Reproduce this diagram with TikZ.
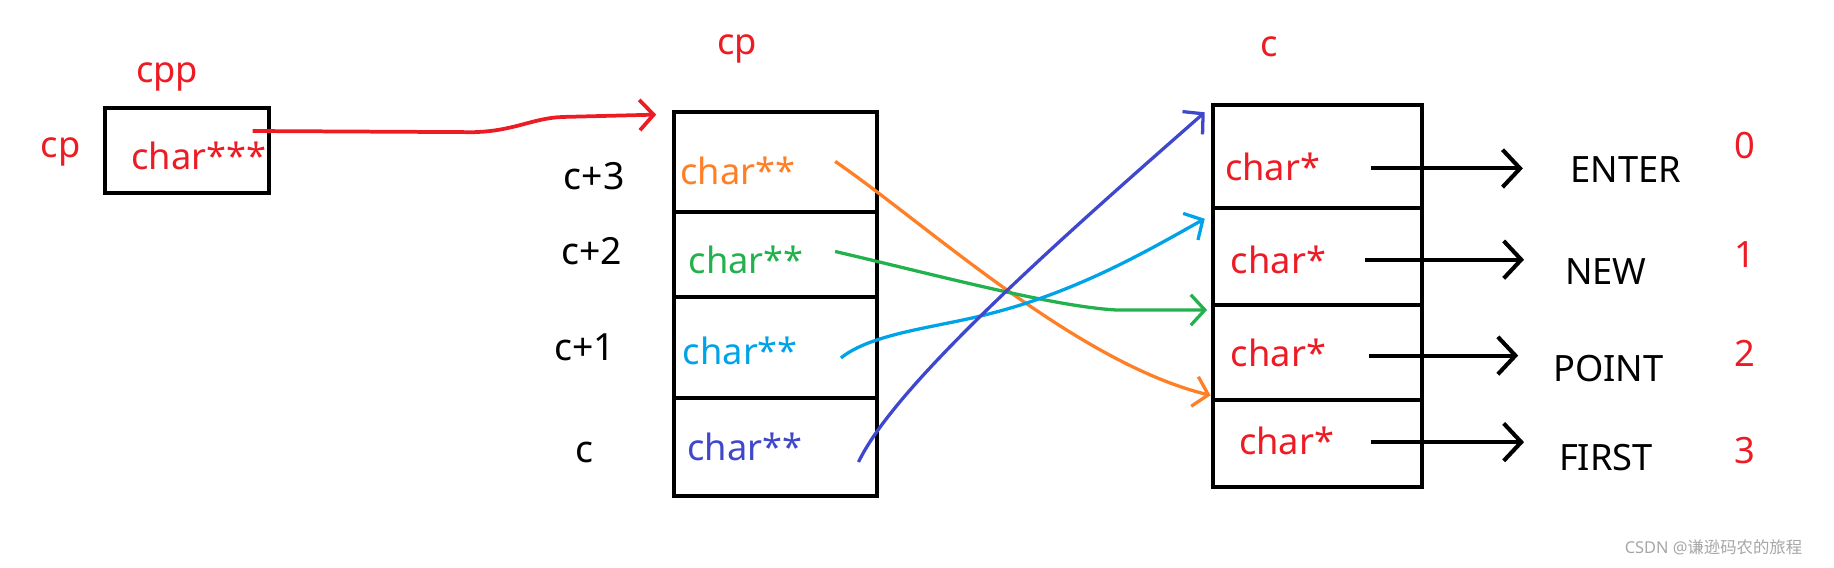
\documentclass[tikz,border=0pt]{standalone}
\usepackage{fontspec}
\setmainfont{Noto Sans}
\newfontfamily\cjk{Noto Sans CJK SC}
\usetikzlibrary{arrows.meta}
\definecolor{pred}{RGB}{237,28,36}
\definecolor{porange}{RGB}{255,127,39}
\definecolor{pgreen}{RGB}{34,177,76}
\definecolor{plblue}{RGB}{0,162,232}
\definecolor{pblue}{RGB}{63,72,204}
\begin{document}
\begin{tikzpicture}[x=1pt,y=-1pt,
  box/.style={draw=black,line width=3.5pt,inner sep=0pt},
  mcell/.style={box,minimum width=174pt},
  rcell/.style={box,minimum width=179pt},
  txt/.style={font=\fontsize{31}{34}\selectfont,inner sep=0pt},
  lab/.style={font=\fontsize{32}{34}\selectfont,inner sep=0pt},
  num/.style={txt,text=pred,font=\fontsize{31}{34}\selectfont},
  bigarrow/.style={line width=3.5pt,-{Straight Barb[length=15pt,width=32pt]}},
  carrow/.style={line width=2.8pt,-{Straight Barb[length=12pt,width=26pt]}}]
\useasboundingbox (0,0) rectangle (1568,485);
% left box
\node[box,minimum width=140pt,minimum height=73pt] (cppbox) at (160,128.5) {};
\node[txt,text=pred] (cpptxt) at (170,133) {char***};
\node[txt,text=pred] (cpplab) at (143,66) {cpp};
\node[txt,text=pred] (cpleft) at (52,130) {cp};
% middle array
\node[txt,text=pred] (cpmid) at (630,42) {cp};
\node[mcell,minimum height=85pt] (m3) at (663,138.5) {};
\node[mcell,minimum height=73pt] (m2) at (663,217.5) {};
\node[mcell,minimum height=86pt] (m1) at (663,297) {};
\node[mcell,minimum height=84pt] (m0) at (663,382) {};
\node[txt,text=porange] (t3) at (631,146) {char**};
\node[txt,text=pgreen] (t2) at (638,222) {char**};
\node[txt,text=plblue] (t1) at (633,300) {char**};
\node[txt,text=pblue] (t0) at (637,382) {char**};
\node[lab] (l3) at (508,151) {c+3};
\node[lab] (l2) at (506,215) {c+2};
\node[lab] (l1) at (500,297) {c+1};
\node[lab] (l0) at (500,387) {c};
% right array
\node[txt,text=pred] (clab) at (1085,40) {c};
\node[rcell,minimum height=88pt] (r0) at (1126.5,134) {};
\node[rcell,minimum height=83pt] (r1) at (1126.5,219.5) {};
\node[rcell,minimum height=81pt] (r2) at (1126.5,301.5) {};
\node[rcell,minimum height=74pt] (r3) at (1126.5,379) {};
\node[txt,text=pred] (s0) at (1088,143) {char*};
\node[txt,text=pred] (s1) at (1093,222) {char*};
\node[txt,text=pred] (s2) at (1093,302) {char*};
\node[txt,text=pred] (s3) at (1100,377) {char*};
\node[txt] (w0) at (1390,145) {ENTER};
\node[txt] (w1) at (1373,232) {NEW};
\node[txt] (w2) at (1375,315) {POINT};
\node[txt] (w3) at (1373,391) {FIRST};
\node[num] (n0) at (1492,124) {0};
\node[num] (n1) at (1492,218) {1};
\node[num] (n2) at (1492,302) {2};
\node[num] (n3) at (1492,385) {3};
\node[inner sep=0pt,text=black!35,font=\fontsize{14}{16}\selectfont] (wm) at (1465,468) {CSDN @{\cjk 谦逊码农的旅程}};
% black arrows
\coordinate (a0) at (1172,144); \coordinate (b0) at (1302,144);
\coordinate (a1) at (1167,222); \coordinate (b1) at (1303,222);
\coordinate (a2) at (1170,304); \coordinate (b2) at (1298,304);
\coordinate (a3) at (1172,378); \coordinate (b3) at (1303,378);
\draw[bigarrow] (a0) -- (b0);
\draw[bigarrow] (a1) -- (b1);
\draw[bigarrow] (a2) -- (b2);
\draw[bigarrow] (a3) -- (b3);
% red arrow
\coordinate (ra) at (216,112); \coordinate (rb) at (561,98);
\draw[carrow,pred,line width=3.2pt] (ra) -- (405,113) .. controls (440,112) and (455,101) .. (481,100) -- (rb);
% coloured arrows
\coordinate (oa) at (714,138); \coordinate (ob) at (1035,338);
\draw[carrow,porange] (oa) .. controls (790,190) and (920,310) .. (ob);
\coordinate (ga) at (714,215); \coordinate (gb) at (1032,265);
\draw[carrow,pgreen] (ga) .. controls (800,235) and (900,262) .. (954,265) -- (gb);
\coordinate (la) at (719,306); \coordinate (lb) at (1030,187);
\draw[carrow,plblue] (la) .. controls (745,285) and (800,280) .. (843,269) .. controls (920,250) and (980,215) .. (lb);
\coordinate (ba) at (734,395); \coordinate (bb) at (1030,96);
\draw[carrow,pblue] (ba) .. controls (765,330) and (900,210) .. (bb);
\end{tikzpicture}
\end{document}
